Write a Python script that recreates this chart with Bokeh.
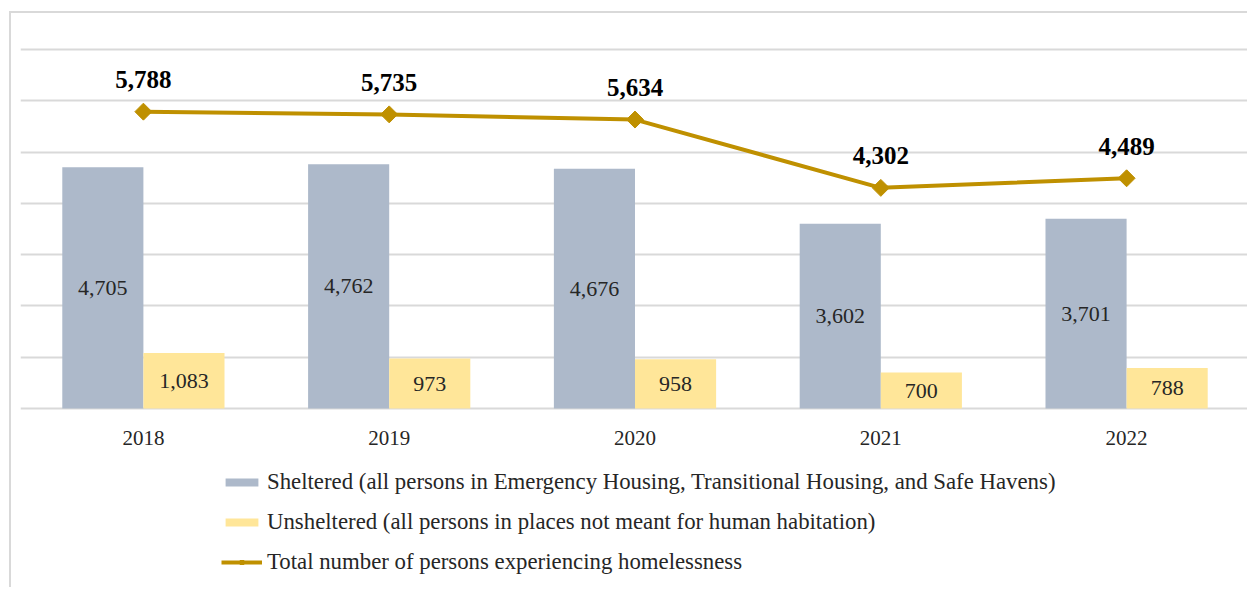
from bokeh.plotting import figure
from bokeh.models import ColumnDataSource, LabelSet, Legend, LegendItem, FixedTicker, Range1d
from bokeh.transform import dodge
from bokeh.embed import file_html
from bokeh.resources import INLINE
import math

years = ["2018", "2019", "2020", "2021", "2022"]
sheltered = [4705, 4762, 4676, 3602, 3701]
unsheltered = [1083, 973, 958, 700, 788]
total = [5788, 5735, 5634, 4302, 4489]
grid_ticks = [0, 1000, 2000, 3000, 4000, 5000, 6000, 7000]

fmt = lambda v: f"{v:,}"
src = ColumnDataSource(dict(
    year=years,
    zero=[0] * len(years),
    sheltered=sheltered,
    unsheltered=unsheltered,
    total=total,
    sh_mid=[v / 2 for v in sheltered],
    un_mid=[v / 2 for v in unsheltered],
    sh_lbl=[fmt(v) for v in sheltered],
    un_lbl=[fmt(v) for v in unsheltered],
    tot_lbl=[fmt(v) for v in total],
))

FONT = "Liberation Serif"
# frame spans page y 46..589; value 0 sits at y=408, 7000 at y=49
PX_PER_UNIT = (408 - 49) / 7000
Y_TOP = 7000 + 3 / PX_PER_UNIT
Y_BOTTOM = -(589 - 408) / PX_PER_UNIT

p = figure(x_range=years, y_range=Range1d(Y_BOTTOM, Y_TOP), width=1238, height=576,
           output_backend="svg", toolbar_location=None,
           min_border_left=9, min_border_right=0, min_border_top=33, min_border_bottom=0)
p.styles = {"border-top": "2px solid #d9d9d9", "border-left": "2px solid #d9d9d9",
            "margin-left": "9px", "margin-top": "11px"}
p.outline_line_color = None
p.xgrid.grid_line_color = None
p.ygrid.ticker = FixedTicker(ticks=grid_ticks)
p.ygrid.grid_line_color = "#d9d9d9"
p.ygrid.grid_line_width = 2
p.yaxis.visible = False
p.xaxis.visible = False
p.x_range.range_padding = 0

r_sh = p.vbar(x=dodge("year", -0.165, range=p.x_range), top="sheltered", width=0.33,
              source=src, fill_color="#ADB9CA", line_color=None)
r_un = p.vbar(x=dodge("year", 0.165, range=p.x_range), top="unsheltered", width=0.33,
              source=src, fill_color="#FFE699", line_color=None)
r_line = p.line(x="year", y="total", source=src, line_color="#BF9000", line_width=4)
r_mk = p.scatter(x="year", y="total", source=src, marker="square", angle=math.pi / 4,
                 size=12, fill_color="#BF9000", line_color="#BF9000")

# category (year) labels under the baseline
p.add_layout(LabelSet(x="year", y="zero", text="year", source=src, y_offset=-29,
                      text_align="center", text_baseline="middle",
                      text_font=FONT, text_font_size="21px", text_color="#262626"))
p.add_layout(LabelSet(x=dodge("year", -0.165, range=p.x_range), y="sh_mid", text="sh_lbl",
                      source=src, text_align="center", text_baseline="middle",
                      text_font=FONT, text_font_size="22px", text_color="#262626"))
p.add_layout(LabelSet(x=dodge("year", 0.165, range=p.x_range), y="un_mid", text="un_lbl",
                      source=src, text_align="center", text_baseline="middle",
                      text_font=FONT, text_font_size="22px", text_color="#262626"))
p.add_layout(LabelSet(x="year", y="total", text="tot_lbl", source=src, y_offset=32,
                      text_align="center", text_baseline="middle", text_font=FONT,
                      text_font_size="25px", text_font_style="bold", text_color="#000000"))

legend = Legend(items=[
    LegendItem(label="Sheltered (all persons in Emergency Housing, Transitional Housing, and Safe Havens)", renderers=[r_sh]),
    LegendItem(label="Unsheltered (all persons in places not meant for human habitation)", renderers=[r_un]),
    LegendItem(label="Total number of persons experiencing homelessness", renderers=[r_line, r_mk]),
], location=(201, 14), orientation="vertical", border_line_color=None, background_fill_alpha=0,
    padding=0, margin=0, spacing=14, label_height=22, glyph_height=10, glyph_width=41,
    label_text_font=FONT, label_text_font_size="22.8px", label_text_color="#262626",
    label_standoff=5)
p.add_layout(legend, "center")

open("out.html", "w").write(file_html(p, INLINE))
